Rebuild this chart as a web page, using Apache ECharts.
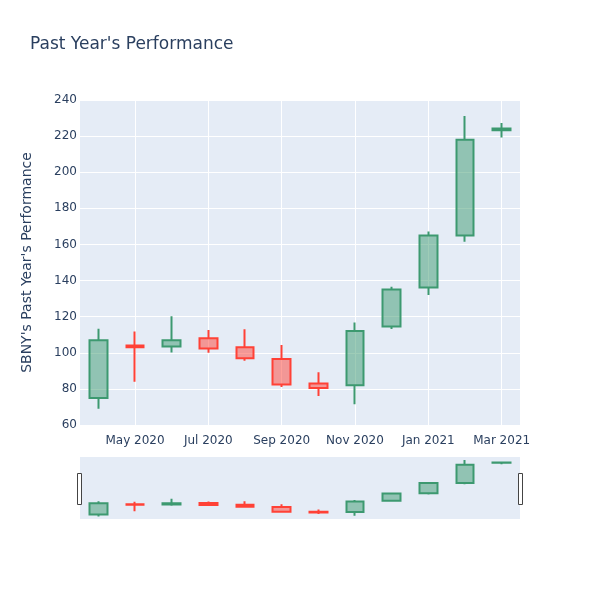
<!DOCTYPE html>
<html>
<head>
<meta charset="utf-8">
<script src="https://cdn.jsdelivr.net/npm/echarts@6/dist/echarts.min.js"></script>
<style>
  html, body { margin: 0; padding: 0; background: #fff; }
  #chart { width: 600px; height: 600px; }
</style>
</head>
<body>
<div id="chart"></div>
<script>
const months = ['Apr 2020', 'May 2020', 'Jun 2020', 'Jul 2020', 'Aug 2020', 'Sep 2020',
  'Oct 2020', 'Nov 2020', 'Dec 2020', 'Jan 2021', 'Feb 2021', 'Mar 2021'];
const openVals  = [75, 104, 103.5, 108, 103, 96.5, 83, 82, 114.5, 136.2, 165, 223.3];
const closeVals = [107, 103, 107, 102.4, 97, 82.5, 80.5, 112, 135, 165, 218, 224.2];
const lowVals   = [69, 84, 100.2, 100, 95.6, 81, 76, 71.5, 113.2, 132, 161.5, 219.3];
const highVals  = [113.3, 111.8, 120.3, 112.6, 113.1, 104.3, 89.2, 116.8, 136.6, 167.2, 231.2, 227.2];
const yTicks = [60, 80, 100, 120, 140, 160, 180, 200, 220, 240];

const textColor = '#2a3f5f';
const upColor = '#3D9970';
const downColor = '#FF4136';
const font = '"DejaVu Sans", verdana, arial, sans-serif';

// echarts candlestick order: [open, close, low, high]
const ohlc = months.map((m, i) => [openVals[i], closeVals[i], lowVals[i], highVals[i]]);

const candleStyle = {
  color: 'rgba(61,153,112,0.5)',
  color0: 'rgba(255,65,54,0.5)',
  borderColor: upColor,
  borderColor0: downColor,
  borderWidth: 2
};

const oddOnly = (i) => i % 2 === 1;

const chart = echarts.init(document.getElementById('chart'));
chart.setOption({
  animation: false,
  textStyle: { fontFamily: font },
  title: {
    text: "Past Year's Performance",
    left: 30,
    top: 36,
    padding: 0,
    textStyle: { color: textColor, fontSize: 17, fontWeight: 'normal', fontFamily: font }
  },
  grid: [
    { left: 80, right: 80, top: 100, height: 325, show: true, backgroundColor: '#e5ecf6', borderWidth: 0 },
    { left: 80, right: 80, top: 457, height: 62, show: true, backgroundColor: '#e5ecf6', borderWidth: 0 }
  ],
  xAxis: [
    {
      type: 'category',
      gridIndex: 0,
      data: months,
      boundaryGap: true,
      axisLine: { show: false },
      axisTick: { show: false },
      axisLabel: { color: textColor, fontSize: 12, margin: 10, interval: oddOnly },
      splitLine: { show: true, interval: oddOnly, alignWithLabel: true, lineStyle: { color: '#fff', width: 1 } }
    },
    {
      type: 'category',
      gridIndex: 1,
      data: months,
      boundaryGap: true,
      axisLine: { show: false },
      axisTick: { show: false },
      axisLabel: { show: false },
      splitLine: { show: false }
    }
  ],
  yAxis: [
    {
      type: 'value',
      gridIndex: 0,
      min: yTicks[0],
      max: yTicks[yTicks.length - 1],
      interval: 20,
      name: "SBNY's Past Year's Performance",
      nameLocation: 'middle',
      nameGap: 46,
      nameTextStyle: { color: textColor, fontSize: 14 },
      axisLine: { show: false },
      axisTick: { show: false },
      axisLabel: { color: textColor, fontSize: 12, margin: 3 },
      splitLine: { lineStyle: { color: '#fff', width: 1 } }
    },
    {
      type: 'value',
      gridIndex: 1,
      min: 62,
      max: 240,
      axisLine: { show: false },
      axisTick: { show: false },
      axisLabel: { show: false },
      splitLine: { show: false }
    }
  ],
  series: [
    {
      type: 'candlestick',
      xAxisIndex: 0,
      yAxisIndex: 0,
      barWidth: 18,
      data: ohlc,
      itemStyle: candleStyle
    },
    {
      type: 'candlestick',
      xAxisIndex: 1,
      yAxisIndex: 1,
      barWidth: 18,
      data: ohlc,
      itemStyle: candleStyle
    }
  ],
  graphic: [
    { type: 'rect', shape: { x: 77.5, y: 473.5, width: 4, height: 31 }, style: { fill: '#fff', stroke: '#444', lineWidth: 1 } },
    { type: 'rect', shape: { x: 518.5, y: 473.5, width: 4, height: 31 }, style: { fill: '#fff', stroke: '#444', lineWidth: 1 } }
  ]
});
</script>
</body>
</html>
